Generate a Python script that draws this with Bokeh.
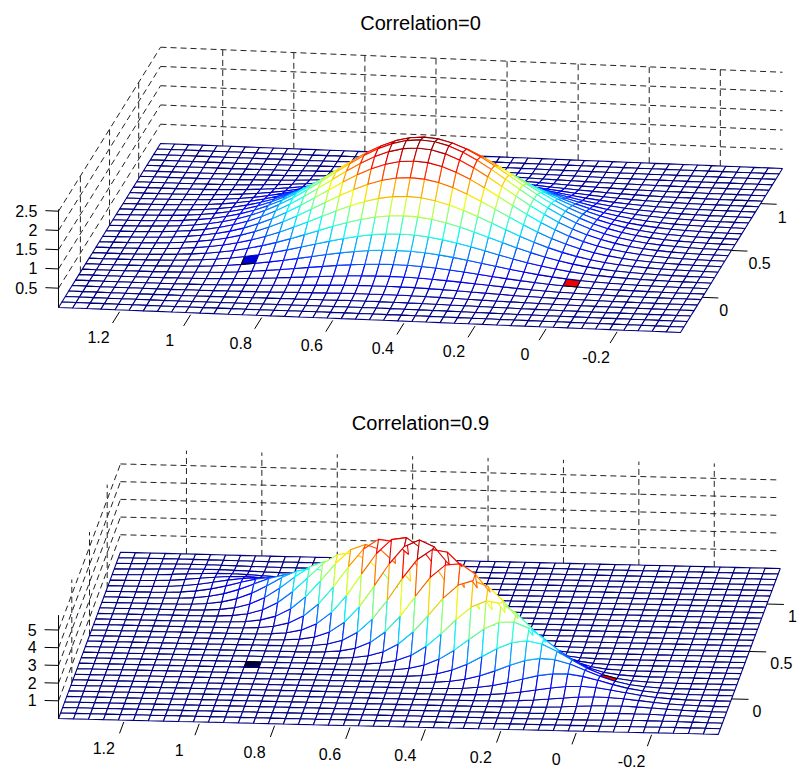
import numpy as np
from bokeh.plotting import figure
from bokeh.models import Range1d
from bokeh.core.properties import value
from bokeh.embed import file_html
from bokeh.resources import INLINE

# surface parameters (bivariate normal density)
mean_x = 0.5
mean_y = 0.5
sigma = 0.25
correlations = [0, 0.9]
titles = ["Correlation=0", "Correlation=0.9"]

x_lim = [-0.375, 1.375]
y_lim = [-0.375, 1.375]
n_x = 44
n_y = 30

x_ticks = [1.2, 1, 0.8, 0.6, 0.4, 0.2, 0, -0.2]
x_tick_labels = ["1.2", "1", "0.8", "0.6", "0.4", "0.2", "0", "-0.2"]
y_ticks = [0, 0.5, 1]
y_tick_labels = ["0", "0.5", "1"]
z_ticks = [[0.5, 1, 1.5, 2, 2.5], [1, 2, 3, 4, 5]]
z_tick_labels = [["0.5", "1", "1.5", "2", "2.5"], ["1", "2", "3", "4", "5"]]

# marked cells: (x, y, colour)
markers = [
    [(0.9, 0.15, "#0000dd"), (0.0, 0.05, "#ee0000")],
    [(0.92, 0.22, "#000044"), (-0.03, 0.14, "#ee0000")],
]

# projection per panel: screen = origin + x*ex + u*eu + z*ez, u = y - y_lim[0]
views = [
    dict(o=(546.7, 326.6), ex=(-355.4, -14.3), eu=(58.3, -93.7), ez=38.5,
         xlab=(-21, 25), ylab=(17, 13), title_y=22),
    dict(o=(576.4, 730.6), ex=(-377.0, -9.14), eu=(35.4, -94.9), ez=17.7,
         xlab=(-20, 26), ylab=(21, 12), title_y=422),
]


def jet(v):
    v = np.clip(v, 0, 1)
    r = np.clip(1.5 - abs(4 * v - 3), 0, 1)
    g = np.clip(1.5 - abs(4 * v - 2), 0, 1)
    b = np.clip(1.5 - abs(4 * v - 1), 0, 1)
    return "#%02x%02x%02x" % (int(r * 255), int(g * 255), int(b * 255))


p = figure(width=797, height=771, output_backend="svg", toolbar_location=None,
           x_range=Range1d(0, 797), y_range=Range1d(771, 0), min_border=0)
p.axis.visible = False
p.grid.visible = False
p.outline_line_color = None

font = value("Liberation Sans")

for k, rho in enumerate(correlations):
    v = views[k]

    def proj(x, y, z):
        u = np.asarray(y) - y_lim[0]
        sx = v["o"][0] + np.asarray(x) * v["ex"][0] + u * v["eu"][0]
        sy = v["o"][1] + np.asarray(x) * v["ex"][1] + u * v["eu"][1] - np.asarray(z) * v["ez"]
        return sx, sy

    xs = np.linspace(x_lim[0], x_lim[1], n_x + 1)
    ys = np.linspace(y_lim[0], y_lim[1], n_y + 1)
    X, Y = np.meshgrid(xs, ys)
    dx = (X - mean_x) / sigma
    dy = (Y - mean_y) / sigma
    Z = np.exp(-(dx ** 2 - 2 * rho * dx * dy + dy ** 2) / (2 * (1 - rho ** 2))) \
        / (2 * np.pi * sigma ** 2 * np.sqrt(1 - rho ** 2))
    z_max = Z.max()

    # dashed grid on the back walls
    wx, wy = [], []
    for zt in z_ticks[k]:
        a = proj([x_lim[1], x_lim[0]], [y_lim[1], y_lim[1]], [zt, zt])
        wx.append(list(a[0])); wy.append(list(a[1]))
        a = proj([x_lim[1], x_lim[1]], [y_lim[0], y_lim[1]], [zt, zt])
        wx.append(list(a[0])); wy.append(list(a[1]))
    for xt in x_ticks:
        a = proj([xt, xt], [y_lim[1], y_lim[1]], [0, z_max])
        wx.append(list(a[0])); wy.append(list(a[1]))
    for yt in y_ticks:
        a = proj([x_lim[1], x_lim[1]], [yt, yt], [0, z_max])
        wx.append(list(a[0])); wy.append(list(a[1]))
    p.multi_line(wx, wy, line_color="#222222", line_width=1, line_dash="6 4")

    # mesh quads, back to front
    d = np.cross([v["ex"][0], v["eu"][0], 0], [-v["ex"][1], -v["eu"][1], v["ez"]])
    mark_cells = {}
    for mx, my, mc in markers[k]:
        i = int((my - y_lim[0]) / (ys[1] - ys[0]))
        j = int((mx - x_lim[0]) / (xs[1] - xs[0]))
        mark_cells[(i, j)] = mc
    quads = []
    for i in range(n_y):
        for j in range(n_x):
            qx = [X[i, j], X[i, j + 1], X[i + 1, j + 1], X[i + 1, j]]
            qy = [Y[i, j], Y[i, j + 1], Y[i + 1, j + 1], Y[i + 1, j]]
            qz = [Z[i, j], Z[i, j + 1], Z[i + 1, j + 1], Z[i + 1, j]]
            depth = d[0] * np.mean(qx) + d[1] * (np.mean(qy) - y_lim[0]) + d[2] * np.mean(qz)
            quads.append((depth, qx, qy, qz, mark_cells.get((i, j))))
    quads.sort(key=lambda q: -q[0])
    px, py, fills, lines = [], [], [], []
    for depth, qx, qy, qz, mc in quads:
        sx, sy = proj(qx, qy, qz)
        px.append(list(sx)); py.append(list(sy))
        fills.append(mc if mc else "white")
        lines.append("black" if mc else jet(np.mean(qz) / z_max))
    p.patches(px, py, fill_color=fills, line_color=lines, line_width=1.1)

    # z axis
    a = proj([x_lim[1], x_lim[1]], [y_lim[0], y_lim[0]], [0, z_max])
    p.line(list(a[0]), list(a[1]), line_color="black", line_width=1)
    tx, ty = [], []
    for zt, lab in zip(z_ticks[k], z_tick_labels[k]):
        a = proj([x_lim[1], x_lim[1] + 0.037], [y_lim[0], y_lim[0]], [zt, zt])
        tx.append(list(a[0])); ty.append(list(a[1]))
        p.text(x=[a[0][1] - 8], y=[a[1][1]], text=[lab], text_font=font, text_font_size="16px",
               text_align="right", text_baseline="middle", text_color="black")
    # x ticks
    for xt, lab in zip(x_ticks, x_tick_labels):
        a = proj([xt, xt], [y_lim[0] - 0.02, y_lim[0] - 0.14], [0, 0])
        tx.append(list(a[0])); ty.append(list(a[1]))
        p.text(x=[a[0][0] + v["xlab"][0]], y=[a[1][0] + v["xlab"][1]], text=[lab], text_font=font,
               text_font_size="16px", text_align="center", text_baseline="middle", text_color="black")
    # y ticks
    for yt, lab in zip(y_ticks, y_tick_labels):
        a = proj([x_lim[0], x_lim[0] - 0.045], [yt, yt], [0, 0])
        tx.append(list(a[0])); ty.append(list(a[1]))
        p.text(x=[a[0][0] + v["ylab"][0]], y=[a[1][0] + v["ylab"][1]], text=[lab], text_font=font,
               text_font_size="16px", text_align="left", text_baseline="middle", text_color="black")
    p.multi_line(tx, ty, line_color="black", line_width=1)

    p.text(x=[420], y=[v["title_y"]], text=[titles[k]], text_font=font, text_font_size="20px",
           text_align="center", text_baseline="middle", text_color="black")

open("out.html", "w").write(file_html(p, INLINE))
